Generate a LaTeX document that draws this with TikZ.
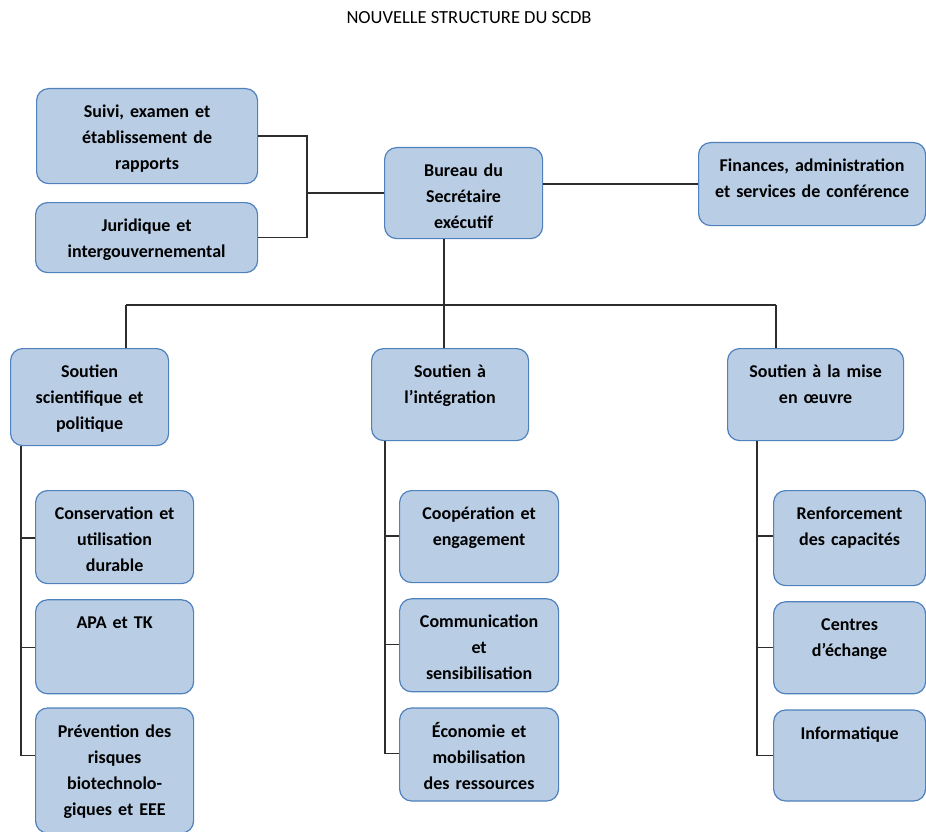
\documentclass[tikz,border=0pt]{standalone}
\usepackage{fontspec}
\setmainfont{Carlito}
\usetikzlibrary{positioning}
\definecolor{cFill}{RGB}{185,205,229}
\definecolor{cEdge}{RGB}{79,129,189}
\definecolor{cLine}{RGB}{45,45,45}
\tikzset{
  orgbox/.style={rectangle, rounded corners=12pt, draw=cEdge, fill=cFill,
                 line width=1.2pt, align=center, anchor=north west,
                 font=\bfseries\fontsize{18}{26}\selectfont,
                 inner xsep=4pt, inner ysep=16pt, text height=13pt},
  link/.style={draw=cLine, line width=1.3pt}
}

\begin{document}
\begin{tikzpicture}[x=1pt, y=-1pt]
  \useasboundingbox (0,0) rectangle (926,832);

  % -- title --
  \node[font=\fontsize{18.5}{22}\selectfont] (title) at (469,18)
      {NOUVELLE STRUCTURE DU SCDB};

  % -- top row --
  \node[orgbox, text width=213pt, text depth=50pt] (suivi) at (36,88)
      {Suivi, examen et\\établissement de\\rapports};
  \node[orgbox, text width=214pt, text depth=25pt] (jurid) at (35,202)
      {Juridique et\\intergouvernemental};
  \node[orgbox, text width=150pt, text depth=46pt] (bureau) at (384,147)
      {Bureau du\\Secrétaire\\exécutif};
  \node[orgbox, text width=219pt, text depth=38pt] (finances) at (698,142)
      {Finances, administration\\et services de conférence};

  % -- second row --
  \node[orgbox, text width=150pt, text depth=52pt] (sci) at (10,348)
      {Soutien\\scientifique et\\politique};
  \node[orgbox, text width=149pt, text depth=47pt] (integ) at (371,348)
      {Soutien à\\l’intégration};
  \node[orgbox, text width=168pt, text depth=47pt] (mise) at (727,348)
      {Soutien à la mise\\en œuvre};

  % -- left column --
  \node[orgbox, text width=150pt, text depth=48pt] (cons) at (35,490)
      {Conservation et\\utilisation\\durable};
  \node[orgbox, text width=150pt, text depth=49pt, below=15pt of cons] (apa)
      {APA et TK};
  \node[orgbox, text width=150pt, text depth=80pt, below=13pt of apa] (prev)
      {Prévention des\\risques\\biotechnolo-\\giques et EEE};

  % -- middle column --
  \node[orgbox, text width=151pt, text depth=47pt] (coop) at (399,490)
      {Coopération et\\engagement};
  \node[orgbox, text width=151pt, text depth=48pt, below=15pt of coop] (comm)
      {Communication\\et\\sensibilisation};
  \node[orgbox, text width=151pt, text depth=48pt, below=15pt of comm] (eco)
      {Économie et\\mobilisation\\des ressources};

  % -- right column --
  \node[orgbox, text width=144pt, text depth=50pt] (renf) at (773,490)
      {Renforcement\\des capacités};
  \node[orgbox, text width=144pt, text depth=47pt, below=15pt of renf] (centres)
      {Centres\\d’échange};
  \node[orgbox, text width=144pt, text depth=46pt, below=15pt of centres] (info)
      {Informatique};

  % -- links, top --
  \coordinate[left=77pt of bureau.west] (jl);
  \draw[link] (suivi.east) -| (jl) |- (jurid.east);
  \draw[link] (jl) -- (bureau.west);
  \draw[link] (finances.west) -- (finances.west -| bureau.east);

  % -- links, bus --
  \coordinate (b1) at (126,305);
  \coordinate (b2) at (444,305);
  \coordinate (b3) at (776,305);
  \draw[link] (b2 |- bureau.south) -- (b2);
  \draw[link] (b1) -- (b3);
  \draw[link] (b1) -- (b1 |- sci.north);
  \draw[link] (b2) -- (b2 |- integ.north);
  \draw[link] (b3) -- (b3 |- mise.north);

  % -- links, columns --
  \coordinate[right=11pt of sci.south west] (vL);
  \coordinate[right=14pt of integ.south west] (vM);
  \coordinate[right=30pt of mise.south west] (vR);
  \foreach \c in {cons,apa,prev}
    \draw[link] ([yshift=-48pt]\c.north west) -| (vL);
  \foreach \c in {coop,comm,eco}
    \draw[link] ([yshift=-46pt]\c.north west) -| (vM);
  \foreach \c in {renf,centres,info}
    \draw[link] ([yshift=-46pt]\c.north west) -| (vR);

\end{tikzpicture}
\end{document}
